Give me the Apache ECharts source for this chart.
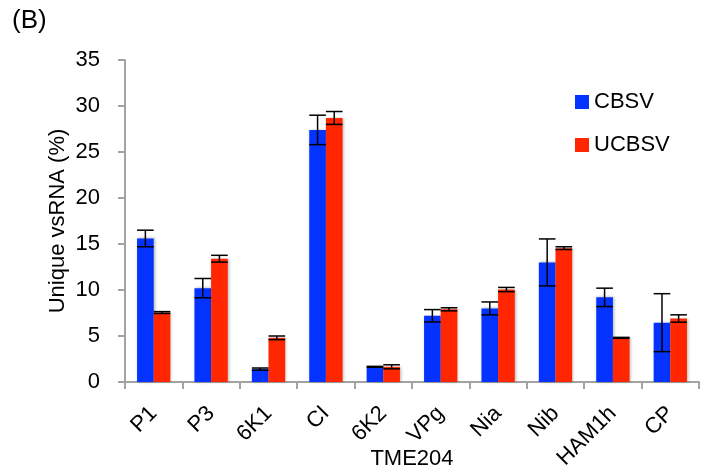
<!DOCTYPE html>
<html>
<head>
<meta charset="utf-8">
<script src="https://cdn.jsdelivr.net/npm/echarts@6/dist/echarts.min.js"></script>
<style>
  html, body { margin: 0; padding: 0; background: #fff; }
  #chart { width: 710px; height: 476px; }
</style>
</head>
<body>
<div id="chart"></div>
<script>
// Unique vsRNA share per viral gene region (TME204), mean ± error
const categories = ['P1', 'P3', '6K1', 'CI', '6K2', 'VPg', 'Nia', 'Nib', 'HAM1h', 'CP'];
const cbsv      = [15.6, 10.2, 1.4, 27.4, 1.65, 7.2, 8.0, 13.0, 9.2, 6.45];
const cbsvErr   = [0.9, 1.05, 0.12, 1.6, 0.05, 0.67, 0.7, 2.55, 1.0, 3.15];
const ucbsv     = [7.55, 13.4, 4.8, 28.7, 1.65, 7.9, 10.05, 14.55, 4.8, 6.9];
const ucbsvErr  = [0.1, 0.37, 0.2, 0.7, 0.22, 0.17, 0.23, 0.15, 0.05, 0.4];
const yTicks    = { min: 0, max: 35, step: 5 };

const BLUE = '#0433ff';
const RED = '#ff2600';
const AXIS = '#a3a3a3';
const FONT = "'Liberation Sans', Arial, sans-serif";
const BAR_FRAC = 0.29;   // bar width as a share of the category band

const chart = echarts.init(document.getElementById('chart'), null, { renderer: 'canvas' });

function errorSeries(name, values, errs, side) {
  return {
    type: 'custom',
    name: name + ' error',
    z: 5,
    silent: true,
    data: values.map((v, i) => [i, v, errs[i]]),
    encode: { x: 0, y: 1 },
    renderItem(params, api) {
      const i = api.value(0), v = api.value(1), e = api.value(2);
      const hi = api.coord([i, v + e]);
      const lo = api.coord([i, v - e]);
      const bw = api.size([1, 0])[0] * BAR_FRAC;
      const x = hi[0] + side * bw / 2;
      const half = bw / 2;
      const style = { stroke: '#000', lineWidth: 1.5 };
      return {
        type: 'group',
        children: [
          { type: 'line', shape: { x1: x, y1: hi[1], x2: x, y2: lo[1] }, style },
          { type: 'line', shape: { x1: x - half, y1: hi[1], x2: x + half, y2: hi[1] }, style },
          { type: 'line', shape: { x1: x - half, y1: lo[1], x2: x + half, y2: lo[1] }, style }
        ]
      };
    }
  };
}

const barShadow = { shadowColor: 'rgba(0,0,0,0.3)', shadowBlur: 3, shadowOffsetX: 1, shadowOffsetY: 0 };

chart.setOption({
  animation: false,
  backgroundColor: '#fff',
  textStyle: { fontFamily: FONT, color: '#000' },
  graphic: [{
    type: 'text', left: 12, top: 8,
    style: { text: '(B)', font: "26px " + FONT, fill: '#000' }
  }],
  legend: {
    data: ['CBSV', 'UCBSV'],
    orient: 'vertical',
    left: 575, top: 91,
    padding: 0,
    icon: 'rect',
    itemWidth: 14, itemHeight: 14, itemGap: 21,
    textStyle: { fontSize: 22, lineHeight: 14, color: '#000', fontFamily: FONT, padding: [3, 0, 0, 0] }
  },
  grid: { left: 125, right: 11, top: 60, bottom: 94, containLabel: false, outerBoundsMode: 'none' },
  xAxis: {
    type: 'category',
    data: categories,
    boundaryGap: true,
    name: 'TME204',
    nameLocation: 'middle',
    nameGap: 66,
    nameMoveOverlap: false,
    nameTextStyle: { fontSize: 22, color: '#000', fontFamily: FONT },
    axisLine: { lineStyle: { color: AXIS, width: 2 } },
    axisTick: { show: true, length: 7, lineStyle: { color: AXIS, width: 2 } },
    axisLabel: { rotate: 45, fontSize: 22, color: '#000', margin: 28, fontFamily: FONT }
  },
  yAxis: {
    type: 'value',
    min: yTicks.min, max: yTicks.max, interval: yTicks.step,
    name: 'Unique vsRNA (%)',
    nameLocation: 'middle',
    nameGap: 56,
    nameMoveOverlap: false,
    nameTextStyle: { fontSize: 22, color: '#000', fontFamily: FONT },
    splitLine: { show: false },
    axisLine: { show: true, lineStyle: { color: AXIS, width: 2 } },
    axisTick: { show: true, length: 7, lineStyle: { color: AXIS, width: 2 } },
    axisLabel: { fontSize: 22, color: '#000', margin: 25, fontFamily: FONT }
  },
  series: [
    {
      name: 'CBSV', type: 'bar', data: cbsv,
      barWidth: (BAR_FRAC * 100) + '%', barGap: '0%',
      itemStyle: Object.assign({ color: BLUE }, barShadow)
    },
    {
      name: 'UCBSV', type: 'bar', data: ucbsv,
      barWidth: (BAR_FRAC * 100) + '%', barGap: '0%',
      itemStyle: Object.assign({ color: RED }, barShadow)
    },
    errorSeries('CBSV', cbsv, cbsvErr, -1),
    errorSeries('UCBSV', ucbsv, ucbsvErr, 1)
  ]
});
</script>
</body>
</html>
